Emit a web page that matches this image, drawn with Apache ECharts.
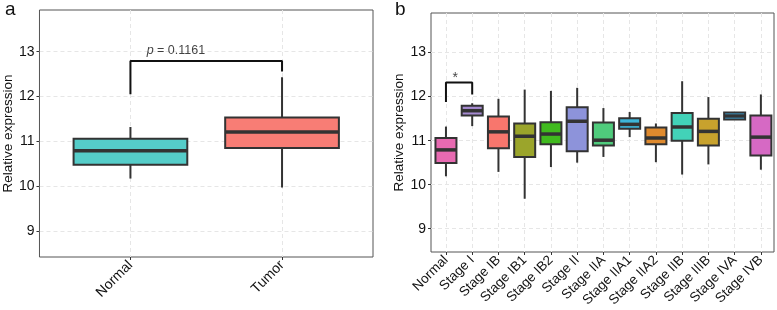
<!DOCTYPE html>
<html>
<head>
<meta charset="utf-8">
<script src="https://cdn.jsdelivr.net/npm/echarts@6/dist/echarts.min.js"></script>
<style>
  html, body { margin: 0; padding: 0; background: #fff; }
  #main { width: 777px; height: 310px; }
</style>
</head>
<body>
<div id="main"></div>
<script>
var dom = document.getElementById("main");
var myChart = echarts.init(dom, null, { renderer: "canvas" });

// panel a: Normal vs Tumor  [min, q1, median, q3, max]
var catsA = ["Normal", "Tumor"];
var boxA = [
  [10.17, 10.48, 10.79, 11.06, 11.32],
  [9.97, 10.85, 11.21, 11.53, 12.43],
];
var colorsA = ["#55CDC9", "#F87D75"];
var bracketA = [[1, 12.05], [1, 12.79], [2, 12.79], [2, 12.56]];
var labelA = [[1.3, 13.02]];

// panel b: by stage
var catsB = ["Normal", "Stage I", "Stage IB", "Stage IB1", "Stage IB2", "Stage II",
  "Stage IIA", "Stage IIA1", "Stage IIA2", "Stage IIB", "Stage IIIB", "Stage IVA", "Stage IVB"];
var boxB = [
  [10.19, 10.49, 10.79, 11.06, 11.32],
  [11.33, 11.57, 11.68, 11.79, 11.85],
  [10.29, 10.83, 11.2, 11.55, 11.95],
  [9.68, 10.63, 11.1, 11.39, 12.16],
  [10.4, 10.92, 11.15, 11.42, 12.13],
  [10.5, 10.76, 11.44, 11.76, 12.2],
  [10.63, 10.89, 11.01, 11.41, 11.74],
  [11.08, 11.27, 11.37, 11.51, 11.65],
  [10.51, 10.92, 11.06, 11.3, 11.39],
  [10.23, 11.0, 11.31, 11.63, 12.35],
  [10.46, 10.89, 11.21, 11.5, 11.99],
  [11.48, 11.48, 11.56, 11.64, 11.64],
  [10.34, 10.66, 11.08, 11.57, 12.05],
];
var colorsB = ["#E76AB1", "#A58AD0", "#F8766D", "#9BA52B", "#40BA1E", "#8D93DA",
  "#4FCB7C", "#3DB5D8", "#DF8A2E", "#42D2B8", "#C8A22D", "#3DAEE6", "#D669C4"];
var bracketB = [[1, 11.88], [1, 12.32], [2, 12.32], [2, 12.05]];
var labelB = [[1.35, 12.42]];

var yTicks = [9, 10, 11, 12, 13];
var font = "Liberation Sans, Arial, sans-serif";
var ink = "#111";

function rows(boxes) {
  return boxes.map(function (b, i) {
    return [i + 1].concat(b);
  });
}

function boxRenderer(colors, width) {
  return function (params, api) {
    var x = api.value(0);
    var half = api.size([width, 0])[0] / 2;
    var pMin = api.coord([x, api.value(1)]);
    var pQ1 = api.coord([x, api.value(2)]);
    var pMed = api.coord([x, api.value(3)]);
    var pQ3 = api.coord([x, api.value(4)]);
    var pMax = api.coord([x, api.value(5)]);
    var line = { stroke: "#333", lineWidth: 2 };
    return {
      type: "group",
      children: [
        { type: "line", shape: { x1: pMax[0], y1: pMax[1], x2: pQ3[0], y2: pQ3[1] }, style: line },
        { type: "line", shape: { x1: pQ1[0], y1: pQ1[1], x2: pMin[0], y2: pMin[1] }, style: line },
        {
          type: "rect",
          shape: { x: pQ3[0] - half, y: pQ3[1], width: half * 2, height: pQ1[1] - pQ3[1] },
          style: { fill: colors[params.dataIndex], stroke: "#333", lineWidth: 2 },
        },
        {
          type: "line",
          shape: { x1: pMed[0] - half, y1: pMed[1], x2: pMed[0] + half, y2: pMed[1] },
          style: { stroke: "#333", lineWidth: 3.5 },
        },
      ],
    };
  };
}

function xAxis(idx, cats, min, max, fontSize) {
  var vals = cats.map(function (c, i) { return i + 1; });
  return {
    type: "value",
    gridIndex: idx,
    min: min,
    max: max,
    axisLine: { show: false },
    axisTick: { show: true, customValues: vals, length: 3, lineStyle: { color: "#333" } },
    axisLabel: {
      customValues: vals,
      rotate: 45,
      color: ink,
      fontSize: fontSize,
      fontFamily: font,
      margin: 6,
      formatter: function (v) { return cats[Math.round(v) - 1]; },
    },
    splitLine: { show: true, lineStyle: { color: "#e6e6e6", type: [4, 3] } },
  };
}

function yAxis(idx, min, max) {
  return {
    type: "value",
    gridIndex: idx,
    min: min,
    max: max,
    name: "Relative expression",
    nameLocation: "middle",
    nameGap: 24,
    nameTextStyle: { color: ink, fontSize: 13.5, fontFamily: font },
    axisLine: { show: false },
    axisTick: { show: true, customValues: yTicks, length: 3, lineStyle: { color: "#333" } },
    axisLabel: { customValues: yTicks, color: ink, fontSize: 14, fontFamily: font, margin: 5 },
    splitLine: { show: true, lineStyle: { color: "#e6e6e6", type: [4, 3] } },
  };
}

var option = {
  animation: false,
  title: [
    { text: "a", left: 0, top: -5, textStyle: { fontSize: 19, fontWeight: "normal", fontFamily: font, color: ink } },
    { text: "b", left: 390, top: -5, textStyle: { fontSize: 19, fontWeight: "normal", fontFamily: font, color: ink } },
  ],
  grid: [
    { left: 37, right: 404, top: 10, bottom: 53, show: true, borderColor: "#555", borderWidth: 1 },
    { left: 431, right: 3, top: 13, bottom: 58, show: true, borderColor: "#555", borderWidth: 1 },
  ],
  xAxis: [xAxis(0, catsA, 0.4, 2.6, 14), xAxis(1, catsB, 0.43, 13.5, 13.5)],
  yAxis: [yAxis(0, 8.42, 13.93), yAxis(1, 8.47, 13.9)],
  series: [
    {
      type: "custom",
      xAxisIndex: 0,
      yAxisIndex: 0,
      renderItem: boxRenderer(colorsA, 0.75),
      encode: { x: 0, y: [1, 2, 3, 4, 5] },
      data: rows(boxA),
    },
    {
      type: "custom",
      xAxisIndex: 1,
      yAxisIndex: 1,
      renderItem: boxRenderer(colorsB, 0.8),
      encode: { x: 0, y: [1, 2, 3, 4, 5] },
      data: rows(boxB),
    },
    {
      type: "line",
      xAxisIndex: 0,
      yAxisIndex: 0,
      data: bracketA,
      symbol: "none",
      lineStyle: { color: ink, width: 2 },
    },
    {
      type: "line",
      xAxisIndex: 1,
      yAxisIndex: 1,
      data: bracketB,
      symbol: "none",
      lineStyle: { color: ink, width: 2 },
    },
    {
      type: "scatter",
      xAxisIndex: 0,
      yAxisIndex: 0,
      data: labelA,
      symbolSize: 0,
      label: {
        show: true,
        position: "inside",
        formatter: "{i|p} = 0.1161",
        color: ink,
        fontSize: 12.5,
        fontFamily: font,
        rich: { i: { fontStyle: "italic", fontSize: 12.5, fontFamily: font, color: ink } },
      },
    },
    {
      type: "scatter",
      xAxisIndex: 1,
      yAxisIndex: 1,
      data: labelB,
      symbolSize: 0,
      label: { show: true, position: "inside", formatter: "*", color: ink, fontSize: 14, fontFamily: font },
    },
  ],
};

myChart.setOption(option);
window.addEventListener("resize", myChart.resize);
</script>
</body>
</html>
